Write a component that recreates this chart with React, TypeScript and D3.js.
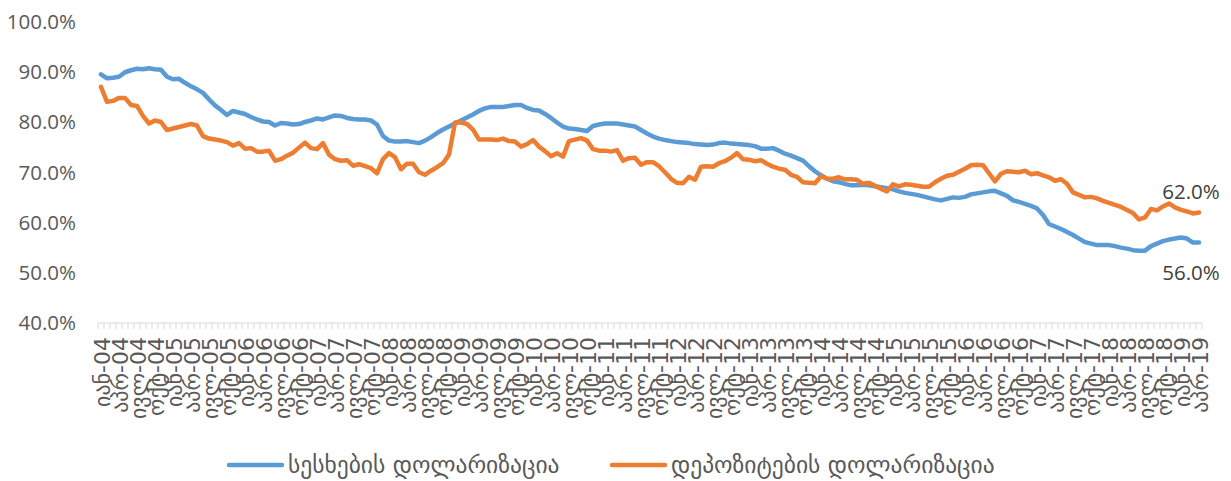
import React from "react";
import * as d3 from "d3";

const W = 1231;
const H = 481;

// Quarterly category labels (one every 3 months), Jan 2004 – Apr 2019
const tickLabels = [
  "იან-04","აპრ-04","ივლ-04","ოქტ-04",
  "იან-05","აპრ-05","ივლ-05","ოქტ-05",
  "იან-06","აპრ-06","ივლ-06","ოქტ-06",
  "იან-07","აპრ-07","ივლ-07","ოქტ-07",
  "იან-08","აპრ-08","ივლ-08","ოქტ-08",
  "იან-09","აპრ-09","ივლ-09","ოქტ-09",
  "იან-10","აპრ-10","ივლ-10","ოქტ-10",
  "იან-11","აპრ-11","ივლ-11","ოქტ-11",
  "იან-12","აპრ-12","ივლ-12","ოქტ-12",
  "იან-13","აპრ-13","ივლ-13","ოქტ-13",
  "იან-14","აპრ-14","ივლ-14","ოქტ-14",
  "იან-15","აპრ-15","ივლ-15","ოქტ-15",
  "იან-16","აპრ-16","ივლ-16","ოქტ-16",
  "იან-17","აპრ-17","ივლ-17","ოქტ-17",
  "იან-18","აპრ-18","ივლ-18","ოქტ-18",
  "იან-19","აპრ-19",
];

const seriesNames = ["სესხების დოლარიზაცია", "დეპოზიტების დოლარიზაცია"];
const seriesColors = ["#5B9BD5", "#ED7D31"];

// Loan dollarization, monthly, %
const loans = [
  89.5, 88.7, 88.8, 89.0, 89.9, 90.3, 90.6, 90.5, 90.7, 90.5, 90.4, 89.0,
  88.5, 88.6, 87.8, 87.1, 86.5, 85.8, 84.5, 83.3, 82.4, 81.4, 82.2, 81.9,
  81.6, 81.0, 80.5, 80.1, 80.0, 79.3, 79.8, 79.7, 79.5, 79.6, 80.0, 80.3,
  80.7, 80.5, 80.9, 81.3, 81.2, 80.8, 80.6, 80.5, 80.5, 80.3, 79.5, 77.2,
  76.3, 76.1, 76.1, 76.2, 76.0, 75.8, 76.3, 77.0, 77.8, 78.5, 79.1, 79.7,
  80.3, 80.9, 81.5, 82.2, 82.7, 83.0, 83.0, 83.0, 83.2, 83.4, 83.4, 82.8,
  82.4, 82.3, 81.6, 80.8, 79.9, 79.1, 78.7, 78.6, 78.4, 78.2, 79.2, 79.5,
  79.7, 79.7, 79.7, 79.5, 79.3, 79.1, 78.4, 77.7, 77.1, 76.7, 76.4, 76.2,
  76.0, 75.9, 75.8, 75.6, 75.5, 75.4, 75.5, 75.8, 75.9, 75.7, 75.6, 75.5,
  75.4, 75.2, 74.7, 74.7, 74.8, 74.3, 73.7, 73.3, 72.8, 72.3, 71.2, 70.2,
  69.4, 68.7, 68.2, 68.0, 67.7, 67.4, 67.4, 67.5, 67.4, 67.2, 67.0, 66.8,
  66.6, 66.2, 65.9, 65.7, 65.5, 65.2, 64.9, 64.6, 64.4, 64.7, 65.0, 64.9,
  65.1, 65.6, 65.8, 66.0, 66.2, 66.3, 65.8, 65.3, 64.4, 64.1, 63.7, 63.3,
  62.8, 61.5, 59.7, 59.2, 58.7, 58.1, 57.5, 56.8, 56.1, 55.8, 55.5, 55.5,
  55.5, 55.3, 55.0, 54.8, 54.5, 54.4, 54.4, 55.3, 55.8, 56.3, 56.6, 56.8,
  57.0, 56.8, 56.0, 56.0,
];

// Deposit dollarization, monthly, %
const deposits = [
  87.0, 84.0, 84.2, 84.8, 84.8, 83.4, 83.2, 81.2, 79.7, 80.3, 80.0, 78.4,
  78.7, 79.0, 79.3, 79.6, 79.3, 77.2, 76.7, 76.5, 76.3, 76.0, 75.3, 75.8,
  74.7, 74.8, 74.1, 74.1, 74.3, 72.3, 72.6, 73.3, 73.9, 74.9, 75.9, 74.8,
  74.6, 75.8, 73.5, 72.6, 72.3, 72.4, 71.3, 71.6, 71.2, 70.8, 69.8, 72.6,
  73.8, 73.0, 70.6, 71.7, 71.7, 70.0, 69.5, 70.3, 71.0, 71.8, 73.5, 79.9,
  79.9, 79.6, 78.5, 76.5, 76.5, 76.5, 76.4, 76.7, 76.2, 76.1, 75.1, 75.6,
  76.4, 75.1, 74.2, 73.2, 73.8, 73.1, 76.2, 76.5, 76.8, 76.3, 74.6, 74.3,
  74.3, 74.1, 74.4, 72.3, 72.8, 72.9, 71.5, 72.0, 72.0, 71.2, 70.0, 68.7,
  67.9, 67.8, 69.1, 68.5, 71.1, 71.2, 71.1, 71.8, 72.2, 72.9, 73.8, 72.6,
  72.5, 72.2, 72.4, 71.7, 71.1, 70.7, 70.5, 69.5, 69.1, 68.0, 67.9, 67.8,
  69.2, 68.7, 68.7, 69.0, 68.6, 68.6, 68.5, 67.7, 67.9, 67.3, 66.7, 66.2,
  67.6, 67.2, 67.6, 67.5, 67.3, 67.1, 67.1, 68.0, 68.7, 69.3, 69.5, 70.1,
  70.7, 71.4, 71.5, 71.4, 69.8, 68.2, 69.7, 70.2, 70.1, 70.0, 70.3, 69.6,
  69.8, 69.4, 69.0, 68.3, 68.6, 67.7, 66.0, 65.5, 65.0, 65.1, 64.8, 64.3,
  63.9, 63.5, 63.1, 62.5, 61.9, 60.6, 61.0, 62.7, 62.4, 63.2, 63.8, 63.0,
  62.5, 62.2, 61.8, 62.0,
];

const yTicks = [40, 50, 60, 70, 80, 90, 100];

const FONT = "'Open Sans', 'DejaVu Sans', sans-serif";
const GEO_FONT = "'DejaVu Sans', sans-serif";
const TEXT_COLOR = "#595959";

export default function App() {
  const n = loans.length;
  const x = d3.scaleLinear().domain([-0.5, n - 0.5]).range([98, 1202]);
  const y = d3.scaleLinear().domain([40, 100]).range([323, 21.5]);

  const line = d3
    .line<number>()
    .x((_, i) => x(i))
    .y((d) => y(d));

  const series = [loans, deposits];
  const tickIdx = d3.range(0, n + 1); // boundaries
  const lastI = n - 1;

  return (
    <svg
      width={W}
      height={H}
      style={{ position: "absolute", left: 0, top: 0, background: "#fff" }}
      fontFamily={FONT}
    >
      {/* Y axis labels */}
      {yTicks.map((t) => (
        <text
          key={t}
          x={76}
          y={y(t)}
          dy="0.36em"
          textAnchor="end"
          fontSize={20.5}
          fill={TEXT_COLOR}
        >
          {d3.format(".1f")(t) + "%"}
        </text>
      ))}

      {/* X axis line and ticks */}
      <line x1={x(-0.5)} x2={x(n - 0.5)} y1={323} y2={323} stroke="#d9d9d9" strokeWidth={1} />
      {tickIdx.map((k) => (
        <line
          key={k}
          x1={x(k - 0.5)}
          x2={x(k - 0.5)}
          y1={323}
          y2={329}
          stroke="#d9d9d9"
          strokeWidth={1}
        />
      ))}

      {/* X axis labels */}
      {tickLabels.map((lab, j) => {
        const xi = x(j * 3);
        return (
          <text
            key={lab}
            transform={`translate(${xi + 1},${337}) rotate(-90)`}
            dy="0.35em"
            textAnchor="end"
            fontSize={22}
            fill={TEXT_COLOR}
            fontFamily={GEO_FONT}
          >
            {lab}
          </text>
        );
      })}

      {/* Lines */}
      {series.map((s, k) => (
        <path
          key={k}
          d={line(s) || ""}
          fill="none"
          stroke={seriesColors[k]}
          strokeWidth={4.5}
          strokeLinejoin="round"
          strokeLinecap="round"
        />
      ))}

      {/* End labels */}
      <text
        x={x(lastI) - 8}
        y={y(deposits[lastI]) - 13}
        textAnchor="middle"
        fontSize={20.5}
        fill="#404040"
      >
        {d3.format(".1f")(deposits[lastI]) + "%"}
      </text>
      <text
        x={x(lastI) - 8}
        y={y(loans[lastI]) + 37}
        textAnchor="middle"
        fontSize={20.5}
        fill="#404040"
      >
        {d3.format(".1f")(loans[lastI]) + "%"}
      </text>

      {/* Legend */}
      {[
        { lx: 229, tx: 288 },
        { lx: 612, tx: 671 },
      ].map((p, k) => (
        <g key={k}>
          <line
            x1={p.lx}
            x2={p.lx + 53}
            y1={465}
            y2={465}
            stroke={seriesColors[k]}
            strokeWidth={4.5}
            strokeLinecap="round"
          />
          <text
            x={p.tx}
            y={465}
            dy="0.35em"
            fontSize={23.5}
            fill={TEXT_COLOR}
            fontFamily={GEO_FONT}
          >
            {seriesNames[k]}
          </text>
        </g>
      ))}
    </svg>
  );
}
